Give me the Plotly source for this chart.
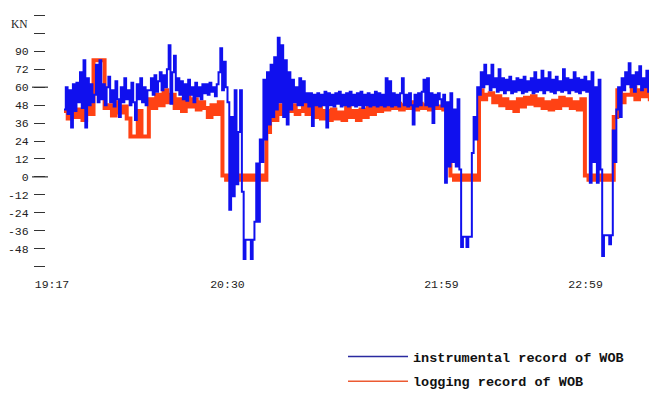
import numpy as np
import plotly.graph_objects as go

# ---- time axis (minutes after 19:17) ----
tick_minutes = [0, 73, 162, 222]
tick_labels = ["19:17", "20:30", "21:59", "22:59"]

# ---- y axis ticks (KN) ----
y_tickvals = [108, 96, 84, 72, 60, 48, 36, 24, 12, 0, -12, -24, -36, -48, -60]
y_ticktext = ["", "", "90", "72", "60", "48", "36", "24", "12", "0", "-12", "-24", "-36", "-48", ""]

# ---- instrumental record of WOB (blue), segments: (start min, end min) + values ----
blue_drill1_span = (5.0, 63.3)
blue_drill1 = [45, 60, 42, 58, 33, 62, 44, 63, 50, 70, 46, 78, 33, 66, 48, 62, 50,
               55, 75, 50, 78, 52, 62, 48, 60, 67, 50, 58, 47, 64, 52, 40, 60, 50, 66, 52, 58,
               48, 63, 50, 38, 62, 52, 66, 50, 60, 48, 58,
               58, 66, 55, 68, 57, 64, 70, 58, 68, 60, 72, 88, 49, 70, 81, 58, 66, 55, 64, 52,
               62, 51, 65, 55, 60, 50, 63, 54, 60, 52, 62]
blue_trip1_span = (63.3, 102.9)
blue_trip1 = [56, 62, 55, 63, 57, 60, 54, 62,
              70, 86, 58, 77, 60, 50,
              -22, 40, -13, 58, -5, 30, 58, -10, -55, -42, -42, -42, -55, -42, -30,
              9, -30, 25, 10, 65, 25, 70, 35, 75, 40,
              80, 45, 93, 50, 88, 40, 78, 35, 70, 45, 65, 50, 60, 48]
blue_drill2_span = (102.9, 161.3)
blue_drill2 = [66, 48, 64, 50, 56, 47, 56, 34, 55, 48, 56, 47, 55, 48, 57, 33, 56, 48, 55, 47,
               56, 49, 57, 47, 55, 48, 56, 47, 57, 48, 55, 47, 56, 48, 57, 46, 55, 48, 56, 47,
               55, 48, 57, 47, 56, 48, 55, 47, 66, 48, 64, 47, 56, 48, 55, 47, 56, 66, 48, 55,
               47, 56, 48, 35, 55, 47, 56, 48, 57, 65, 48, 66, 47, 56, 36, 55, 48, 56]
blue_trip2_span = (161.3, 182.1)
blue_trip2 = [52, 47, 55, -4, 50, 7, 56, 10, 45, 7, 52, 5, -47, -40, -40, -47, -40, -40,
              16, 40, 25, 60, 55, 70, 60, 75, 62, 68]
blue_drill3_span = (182.1, 223.75)
blue_drill3 = [58, 75, 60, 66, 57, 72, 58, 66, 56, 65, 58, 67, 56, 64, 57, 66, 58, 65, 56, 67,
               57, 64, 58, 66, 56, 70, 57, 65, 58, 71, 56, 66, 58, 70, 57, 65, 56, 67, 58, 64,
               57, 72, 58, 66, 56, 65, 58, 70, 57, 66, 56, 65, 58, 67, 57, 64]
blue_trip3_span = (223.75, 251.7)
blue_trip3 = [-4, 70, 10, 60, -4, 65, 5, -53, -39, -39, -39, -45, -39, 31, 10, 45, 60, 40, 66,
              58, 70, 62, 76, 60, 68, 57, 70, 62, 74, 58, 66, 60, 71, 57, 68, 62, 76, 60]

# ---- logging record of WOB (red) ----
red_drill1_span = (5.0, 63.3)
red_drill1 = [44, 39, 47, 40, 45, 38, 48, 42,
              78, 78, 78, 46,
              48, 41, 50, 43, 47, 39, 27, 27, 44, 27, 27,
              52, 46, 55, 48, 58, 50, 55, 46, 52, 44, 54, 47, 52, 45, 50]
red_trip1_span = (63.3, 102.9)
red_trip1 = [46, 40, 48, 42, 50, 1, -2, 1, -2, 1, -2, 1, -2, 1, -2, 1, -2,
             30, 45, 38, 48, 42, 50, 44, 48, 42]
red_drill2_span = (102.9, 161.3)
red_drill2 = [44, 50, 42, 48, 40, 46, 39, 44, 38, 45, 39, 43, 38, 46, 40, 44, 38, 45, 40, 47,
              42, 48, 44, 49, 45, 48, 46, 49, 45, 48, 46, 50, 45, 49, 46, 48, 45, 50, 46]
red_trip2_span = (161.3, 182.1)
red_trip2 = [47, 45, 30, 1, -2, 1, -2, 1, -2, 1, -2, 58, 52, 55]
red_drill3_span = (182.1, 221.7)
red_drill3 = [56, 50, 54, 48, 52, 46, 50, 44, 52, 47, 53, 49, 54, 48, 52, 46, 50, 45, 51, 46,
              53, 48, 52, 46, 50, 45, 52]
red_trip3_span = (221.7, 251.7)
red_trip3 = [1, -2, 1, -2, 1, -2, 1, -2, 40, 58, 50, 55, 55, 60, 52, 58, 54, 61, 52, 57]

blue_name = "instrumental record of WOB"
red_name = "logging record of WOB"


def build(parts):
    xs, ys = [], []
    for (t0, t1), vals in parts:
        n = len(vals)
        xs.extend(t0 + (t1 - t0) * np.arange(n) / n)
        ys.extend(vals)
    return xs, ys


bx, by = build([(blue_drill1_span, blue_drill1), (blue_trip1_span, blue_trip1),
                (blue_drill2_span, blue_drill2), (blue_trip2_span, blue_trip2),
                (blue_drill3_span, blue_drill3), (blue_trip3_span, blue_trip3)])
rx, ry = build([(red_drill1_span, red_drill1), (red_trip1_span, red_trip1),
                (red_drill2_span, red_drill2), (red_trip2_span, red_trip2),
                (red_drill3_span, red_drill3), (red_trip3_span, red_trip3)])

fig = go.Figure()
fig.add_trace(go.Scatter(x=rx, y=ry, mode="lines", name=red_name, showlegend=False,
                         line=dict(color="#ff4214", width=4, shape="hv")))
fig.add_trace(go.Scatter(x=bx, y=by, mode="lines", name=blue_name, showlegend=False,
                         line=dict(color="#1010ee", width=2, shape="hv")))
# legend entries (thin lines, as in the original key)
fig.add_trace(go.Scatter(x=[None], y=[None], mode="lines", name=blue_name,
                         line=dict(color="#2a2aa0", width=1.5), legendgroup="b", legendrank=1))
fig.add_trace(go.Scatter(x=[None], y=[None], mode="lines", name=red_name,
                         line=dict(color="#ec5a32", width=1.5), legendgroup="r", legendrank=2))

# the page has an 8px body margin, so the figure is drawn 8px smaller/offset
PAGE_OFF = 8
FIG_W, FIG_H = 657 - PAGE_OFF, 395 - PAGE_OFF
L, T, PH = 46 - PAGE_OFF, 14.5 - PAGE_OFF, 252.9
PW = FIG_W - L
BOTTOM_REF = 14.5 + PH  # plot bottom in reference pixels
fig.update_layout(
    width=FIG_W, height=FIG_H, autosize=False,
    margin=dict(l=L, r=0, t=T, b=FIG_H - T - PH, pad=0, autoexpand=False),
    plot_bgcolor="white", paper_bgcolor="white",
    showlegend=True,
    legend=dict(x=(343 - 46) / PW, y=(BOTTOM_REF - 342) / PH, xanchor="left", yanchor="top",
                font=dict(family="Liberation Mono", size=13.5, color="#111", weight="bold"),
                bgcolor="rgba(0,0,0,0)", tracegroupgap=4, itemwidth=60,
                traceorder="grouped"),
    xaxis=dict(range=[-2.5, 251.7], tickvals=tick_minutes, ticktext=tick_labels,
               showgrid=False, zeroline=False, showline=False, ticks="",
               tickfont=dict(family="Liberation Mono", size=11.5, color="#222"),
               ticklabelstandoff=8),
    yaxis=dict(range=[-60.3, 108.3], tickvals=y_tickvals, ticktext=y_ticktext,
               showgrid=False, zeroline=False, showline=False, ticks="outside",
               ticklen=11, tickwidth=1.2, tickcolor="#333",
               tickfont=dict(family="Liberation Mono", size=11.5, color="#222"),
               ticklabelstandoff=3),
    shapes=[dict(type="line", xref="paper", yref="y", x0=-14 / PW, x1=2 / PW, y0=v, y1=v,
                 line=dict(color="#333", width=1.2)) for v in (60, 0)],
    annotations=[dict(text="KN", xref="paper", yref="y", x=-16 / PW, y=102, xanchor="right",
                      showarrow=False, font=dict(family="Liberation Serif", size=11.5, color="#222"))],
)

fig.write_html("out.html")
